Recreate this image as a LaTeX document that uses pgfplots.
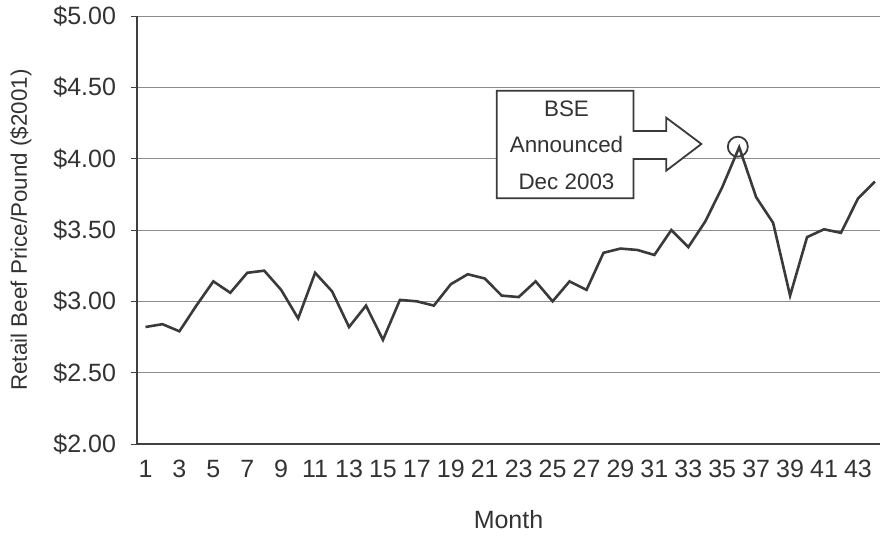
\documentclass[border=0pt]{standalone}
\usepackage{fontspec}
\setmainfont{Liberation Sans}
\usepackage{pgfplots}
\pgfplotsset{compat=1.18}
\definecolor{txt}{HTML}{333333}
\definecolor{ln}{HTML}{3A3A3A}
\begin{document}
\begin{tikzpicture}
\begin{axis}[
  scale only axis,
  width=371.5pt, height=214pt,
  xmin=0.5, xmax=44.3,
  ymin=2, ymax=5,
  axis x line*=bottom, axis y line*=left,
  axis line style={black!75, line width=0.8pt},
  ytick={2,2.5,3,3.5,4,4.5,5},
  yticklabels={\$2.00,\$2.50,\$3.00,\$3.50,\$4.00,\$4.50,\$5.00},
  xtick={1,3,...,43},
  major x tick style={draw=none},
  extra x ticks={0.5,2.5,...,44.5},
  extra x tick labels={},
  extra x tick style={grid=none, major tick style={draw=black!75, line width=0.5pt}},
  tick align=outside,
  major tick length=3pt,
  ytick style={black!75, line width=0.5pt},
  ymajorgrids,
  grid style={black!45, line width=0.5pt},
  /pgf/number format/assume math mode=true,
  tick label style={font=\fontsize{12.5}{14}\selectfont, text=txt},
  yticklabel style={anchor=east, xshift=-4pt},
  xticklabel style={anchor=north, yshift=-1.5pt},
  xlabel={Month},
  ylabel={Retail Beef Price/Pound (\$2001)},
  xlabel style={font=\fontsize{12.5}{14}\selectfont, text=txt, at={(axis description cs:0.5,0)}, anchor=center, yshift=-38pt},
  ylabel style={font=\fontsize{11.2}{13}\selectfont, text=txt, at={(axis description cs:0,0.5)}, anchor=center, yshift=58pt},
  clip=false,
]
\coordinate (O) at (rel axis cs:0,0);
\coordinate (T) at (rel axis cs:1,1);
\addplot[ln, line width=1.3pt, mark=none] coordinates {
(1,2.82) (2,2.84) (3,2.79) (4,2.97) (5,3.14) (6,3.06) (7,3.20) (8,3.215)
(9,3.08) (10,2.88) (11,3.20) (12,3.07) (13,2.82) (14,2.97) (15,2.73) (16,3.01)
(17,3.00) (18,2.97) (19,3.12) (20,3.19) (21,3.16) (22,3.04) (23,3.03) (24,3.14)
(25,3.00) (26,3.14) (27,3.08) (28,3.34) (29,3.37) (30,3.36) (31,3.325) (32,3.50)
(33,3.38) (34,3.56) (35,3.80) (36,4.08) (37,3.73) (38,3.55) (39,3.04) (40,3.45)
(41,3.505) (42,3.48) (43,3.72) (44,3.84)
};
\addplot[only marks, mark=o, mark size=5pt, mark options={draw=ln, line width=0.9pt}] coordinates {(35.92,4.084)};
\draw[ln, line width=0.9pt, fill=white, line join=miter]
  (axis cs:21.71,4.476) -- (axis cs:29.77,4.476) -- (axis cs:29.77,4.194)
  -- (axis cs:31.70,4.194) -- (axis cs:31.70,4.287) -- (axis cs:33.77,4.103)
  -- (axis cs:31.70,3.916) -- (axis cs:31.70,3.998) -- (axis cs:29.77,3.998)
  -- (axis cs:29.77,3.722) -- (axis cs:21.71,3.722) -- cycle;
\node[align=center, text=txt, font=\fontsize{11.2}{18.25}\selectfont] at (axis cs:25.82,4.096) {BSE\\Announced\\Dec 2003};
\end{axis}
\pgfresetboundingbox
\path ([shift={(-68.5pt,-46.5pt)}]O) rectangle ([shift={(0pt,8pt)}]T);
\end{tikzpicture}
\end{document}
